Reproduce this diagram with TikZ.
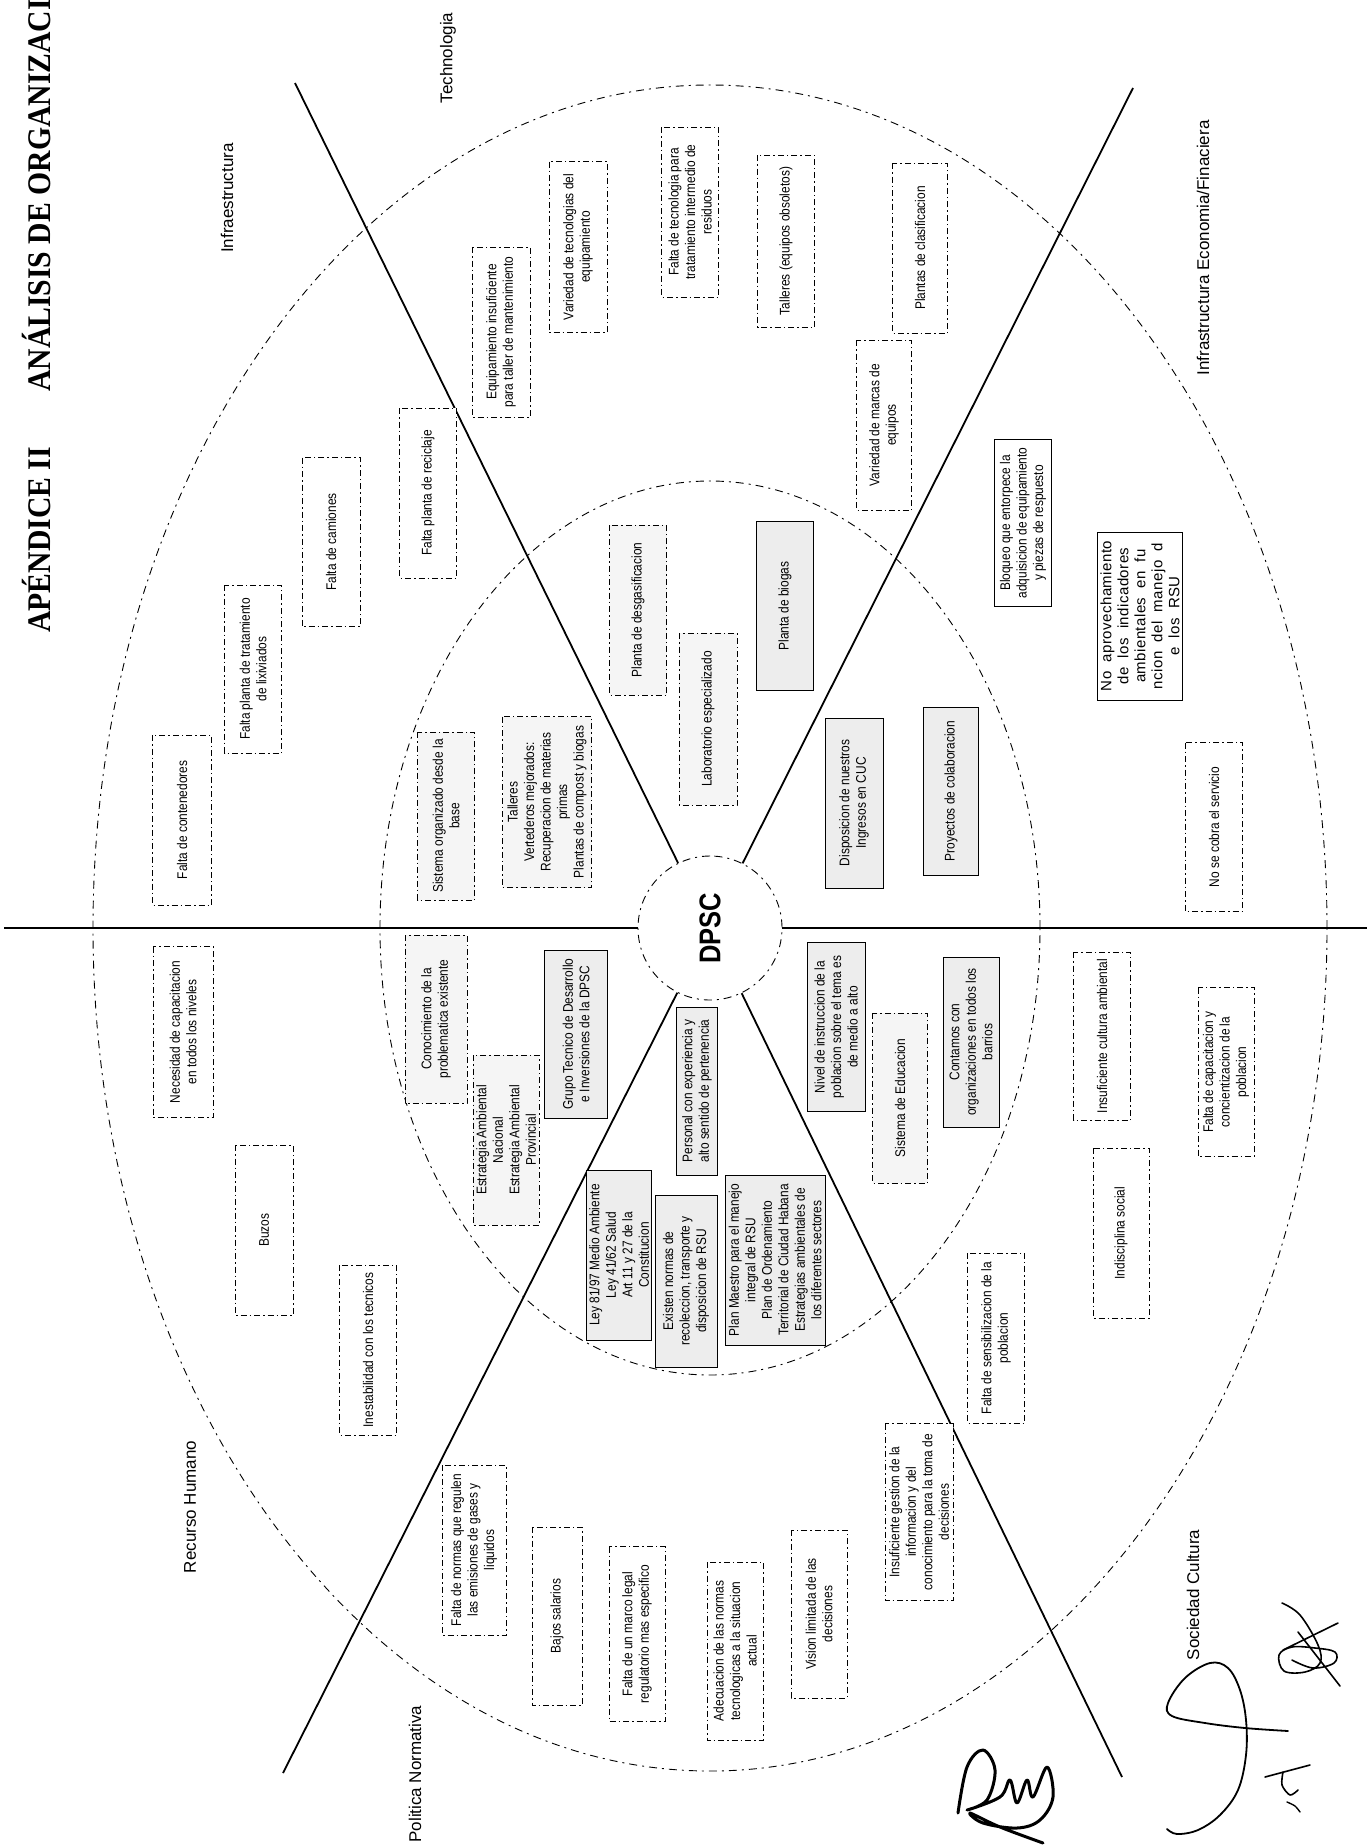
\documentclass[tikz,border=0pt]{standalone}
\usepackage{fontspec}
\setmainfont{Liberation Sans}[FakeStretch=0.85]
\newfontfamily\labfont{Liberation Sans}
\newfontfamily\ttlfont{Liberation Serif}[FakeStretch=0.9]
\newfontfamily\widefont{Liberation Sans}[LetterSpace=3]
\newcommand\boxfont{\fontsize{14}{16.5}\selectfont}
\usetikzlibrary{calc}
\tikzset{
  ring/.style={line width=0.9pt, dash pattern=on 8pt off 5pt on 2pt off 5pt},
  spoke/.style={line width=1.8pt},
  bx/.style={rotate=90, align=center, inner sep=0pt, font=\boxfont, line width=0.8pt, fill=white},
  weak/.style={bx, draw, dash pattern=on 6pt off 3pt on 1.5pt off 3pt},
  weaks/.style={bx, draw},
  good/.style={bx, draw, fill=black!7},
  goodd/.style={bx, draw, dash pattern=on 6pt off 3pt on 1.5pt off 3pt, fill=black!4},
  sz/.style 2 args={minimum width=#1pt, minimum height=#2pt},
  lab/.style={rotate=90, inner sep=0pt, font=\labfont\fontsize{17}{20}\selectfont},
  ttl/.style={rotate=90, inner sep=0pt, font=\ttlfont\bfseries\fontsize{33}{36}\selectfont},
  hubst/.style={circle, draw, line width=0.9pt, dash pattern=on 8pt off 5pt on 2pt off 5pt,
    minimum size=144pt, inner sep=0pt, rotate=90, font=\bfseries\fontsize{30}{30}\selectfont},
  sig/.style={line width=2.4pt, line cap=round, line join=round},
}
\begin{document}
\begin{tikzpicture}[x=1pt, y=-1pt]
\useasboundingbox (0,0) rectangle (1367,1848);
\fill[white] (0,0) rectangle (1367,1848);

% title along the left edge
\node[ttl, anchor=base west] (tA) at (50,633) {APÉNDICE II};
\node[ttl, anchor=base west] (tB) at (50,392) {ANÁLISIS DE ORGANIZACI};

% rings
\coordinate (c) at (710,928);
\draw[ring] (c) ellipse [x radius=617pt, y radius=843pt];
\draw[ring] (c) ellipse [x radius=330pt, y radius=447pt];

% hub and spokes
\node[hubst, fill=white] (hub) at (c) {DPSC};
\coordinate (eUL) at (295,83);
\coordinate (eUR) at (1133,88);
\coordinate (eLL) at (283,1773);
\coordinate (eLR) at (1122,1777);
\coordinate (eW) at (4,928);
\coordinate (eE) at (1367,928);
\draw[spoke] (hub) -- (eUL);
\draw[spoke] (hub) -- (eUR);
\draw[spoke] (hub) -- (eLL);
\draw[spoke] (hub) -- (eLR);
\draw[spoke] (hub) -- (eW);
\draw[spoke] (hub) -- (eE);

% sector labels
\node[lab] (lInfra) at (227,198) {Infraestructura};
\node[lab] (lTech) at (448,58) {Technologia};
\node[lab] (lEco) at (1203,248) {Infrastructura Economia/Finaciera};
\node[lab] (lRec) at (190,1507) {Recurso Humano};
\node[lab] (lPol) at (415,1774) {Politica Normativa};
\node[lab] (lSoc) at (1193,1595) {Sociedad Cultura};

% outer ring boxes
\node[weak, sz={170}{59}] (w1) at (182,820) {Falta de contenedores};
\node[weak, sz={168}{57}] (w2) at (253,669) {Falta planta de tratamiento\\de lixiviados};
\node[weak, sz={169}{58}] (w3) at (331,542) {Falta de camiones};
\node[weak, sz={170}{57}] (w4) at (428,493) {Falta planta de reciclaje};
\node[weak, sz={170}{58}] (w5) at (501,332) {Equipamiento insuficiente\\para taller de mantenimiento};
\node[weak, sz={171}{58}] (w6) at (578,247) {Variedad de tecnologias del\\equipamiento};
\node[weak, sz={170}{57}] (w7) at (690,212) {Falta de tecnologia para\\tratamiento intermedio de\\residuos};
\node[weak, sz={172}{57}] (w8) at (786,241) {Talleres (equipos obsoletos)};
\node[weak, sz={170}{55}] (w9) at (920,248) {Plantas de clasificacion};
\node[weak, sz={170}{55}] (w10) at (884,425) {Variedad de marcas de\\equipos};
\node[weaks, sz={167}{57}] (w11) at (1023,523) {Bloqueo que entorpece la\\adquisicion de equipamiento\\y piezas de respuesto};
\node[weaks, sz={168}{85}, font=\widefont\fontsize{15}{17}\selectfont] (w12) at (1140,616)
  {No\ \ aprovechamiento\\de\ \ los\ \ indicadores\\ambientales\ \ en\ \ fu\\ncion\ \ del\ \ manejo\ \ d\\e\ \ los\ \ RSU};
\node[weak, sz={169}{57}] (w13) at (1214,827) {No se cobra el servicio};
\node[weak, sz={171}{60}] (w14) at (183,1032) {Necesidad de capacitacion\\en todos los niveles};
\node[weak, sz={170}{58}] (w15) at (264,1230) {Buzos};
\node[weak, sz={170}{57}] (w16) at (368,1350) {Inestabilidad con los tecnicos};
\node[weak, sz={170}{64}] (w17) at (474,1550) {Falta de normas que regulen\\las emisiones de gases y\\liquidos};
\node[weak, sz={178}{50}] (w18) at (557,1616) {Bajos salarios};
\node[weak, sz={175}{56}] (w19) at (637,1634) {Falta de un marco legal\\regulatorio mas especifico};
\node[weak, sz={178}{56}] (w20) at (735,1651) {Adecuacion de las normas\\tecnologicas a la situacion\\actual};
\node[weak, sz={168}{56}] (w21) at (819,1614) {Vision limitada de las\\decisiones};
\node[weak, sz={177}{68}] (w22) at (919,1512) {Insuficiente gestion de la\\informacion y del\\conocimiento para la toma de\\decisiones};
\node[weak, sz={170}{57}] (w23) at (996,1338) {Falta de sensibilizacion de la\\poblacion};
\node[weak, sz={170}{56}] (w24) at (1121,1233) {Indisciplina social};
\node[weak, sz={168}{57}] (w25) at (1102,1036) {Insuficiente cultura ambiental};
\node[weak, sz={169}{56}] (w26) at (1226,1072) {Falta de capacitacion y\\concientizacion de la\\poblacion};

% inner ring boxes
\node[goodd, sz={168}{57}] (g1) at (446,816) {Sistema organizado desde la\\base};
\node[goodd, sz={171}{89}] (g2) at (547,802) {Talleres\\Vertederos mejorados:\\Recuperacion de materias\\primas\\Plantas de compost y biogas};
\node[goodd, sz={170}{57}] (g3) at (638,610) {Planta de desgasificacion};
\node[goodd, sz={172}{58}] (g4) at (708,719) {Laboratorio especializado};
\node[good, sz={169}{57}] (g5) at (785,606) {Planta de biogas};
\node[good, sz={170}{58}] (g6) at (854,803) {Disposicion de nuestros\\Ingresos en CUC};
\node[good, sz={168}{55}] (g7) at (951,791) {Proyectos de colaboracion};
\node[goodd, sz={168}{62}] (g8) at (436,1019) {Conocimiento de la\\problematica existente};
\node[goodd, sz={170}{66}] (g9) at (506,1140) {Estrategia Ambiental\\Nacional\\Estrategia Ambiental\\Provincial};
\node[good, sz={168}{63}] (g10) at (576,1034) {Grupo Tecnico de Desarrollo\\e Inversiones de la DPSC};
\node[good, sz={168}{41}] (g11) at (697,1091) {Personal con experiencia y\\alto sentido de pertenencia};
\node[good, sz={170}{65}] (g12) at (619,1255) {Ley 81/97 Medio Ambiente\\Ley 41/62 Salud\\Art 11 y 27 de la\\Constitucion};
\node[good, sz={172}{62}] (g13) at (686,1281) {Existen normas de\\recoleccion, transporte y\\disposicion de RSU};
\node[good, sz={170}{100}] (g14) at (775,1260) {Plan Maestro para el manejo\\integral de RSU\\Plan de Ordenamiento\\Territorial de Ciudad Habana\\Estrategias ambientales de\\los diferentes sectores};
\node[good, sz={169}{58}] (g15) at (836,1027) {Nivel de instruccion de la\\poblacion sobre el tema es\\de medio a alto};
\node[goodd, sz={170}{55}] (g16) at (900,1098) {Sistema de Educacion};
\node[good, sz={170}{56}] (g17) at (971,1042) {Contamos con\\organizaciones en todos los\\barrios};

% handwritten signatures
\draw[sig, line width=3pt] plot[smooth, tension=0.6] coordinates {(958,1813) (967,1767) (983,1750) (995,1770) (987,1800) (967,1810) (1000,1797) (1010,1780) (1017,1803) (1027,1780) (1033,1797) (1047,1767) (1053,1797) (1040,1820) (1017,1828) (983,1823) (970,1813) (1000,1827) (1043,1843)};
\draw[sig, line width=1.8pt] plot[smooth, tension=0.6] coordinates {(1288,1731) (1245,1728) (1205,1723) (1172,1716) (1168,1703) (1185,1678) (1210,1663) (1228,1668) (1240,1690) (1246,1720) (1246,1755) (1238,1790) (1220,1815) (1198,1830) (1177,1834) (1167,1829)};
\draw[sig, line width=1.6pt] plot[smooth, tension=0.6] coordinates {(1282,1603) (1300,1615) (1318,1645) (1320,1663) (1305,1672) (1284,1671) (1279,1655) (1292,1647) (1315,1648) (1335,1652) (1334,1663) (1313,1668) (1292,1660)};
\coordinate (s1a) at (1338,1623);
\coordinate (s1b) at (1283,1650);
\coordinate (s2a) at (1298,1632);
\coordinate (s2b) at (1340,1686);
\draw[sig, line width=1.6pt] (s1a) -- (s1b);
\draw[sig, line width=1.6pt] (s2a) -- (s2b);
\coordinate (s3a) at (1265,1777);
\coordinate (s3b) at (1310,1765);
\draw[sig, line width=1.6pt] (s3a) -- (s3b);
\draw[sig, line width=1.6pt] plot[smooth] coordinates {(1283,1772) (1282,1785) (1290,1795) (1298,1790)};
\draw[sig, line width=1.4pt] plot[smooth] coordinates {(1287,1802) (1295,1806) (1300,1812)};
\end{tikzpicture}
\end{document}
